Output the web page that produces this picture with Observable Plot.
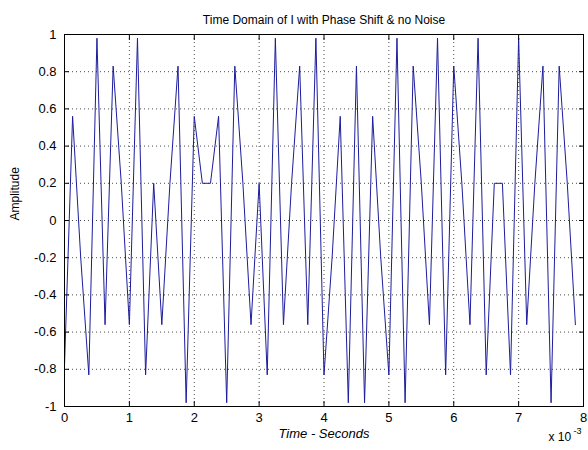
<!DOCTYPE html>
<html>
<head>
<meta charset="utf-8">
<script src="https://cdn.jsdelivr.net/npm/d3@7"></script>
<script src="https://cdn.jsdelivr.net/npm/@observablehq/plot@0.6"></script>
<style>
  html, body { margin: 0; padding: 0; background: #fff; }
</style>
</head>
<body>
<div id="chart"></div>
<script>
// time in units of 1e-3 seconds
const times = [0, 0.125, 0.25, 0.375, 0.5, 0.625, 0.75, 0.875,
  1, 1.125, 1.25, 1.375, 1.5, 1.625, 1.75, 1.875,
  2, 2.125, 2.25, 2.375, 2.5, 2.625, 2.75, 2.875,
  3, 3.125, 3.25, 3.375, 3.5, 3.625, 3.75, 3.875,
  4, 4.125, 4.25, 4.375, 4.5, 4.625, 4.75, 4.875,
  5, 5.125, 5.25, 5.375, 5.5, 5.625, 5.75, 5.875,
  6, 6.125, 6.25, 6.375, 6.5, 6.625, 6.75, 6.875,
  7, 7.125, 7.25, 7.375, 7.5, 7.625, 7.75, 7.875];
const amplitude = [-0.78, 0.56, -0.2, -0.83, 0.98, -0.56, 0.83, 0.2,
  -0.56, 0.98, -0.83, 0.2, -0.56, 0.2, 0.83, -0.98,
  0.56, 0.2, 0.2, 0.56, -0.98, 0.83, 0.2, -0.56,
  0.2, -0.83, 0.98, -0.56, 0.2, 0.83, -0.56, 0.98,
  -0.83, -0.2, 0.56, -0.98, 0.83, -0.98, 0.56, -0.2,
  -0.83, 0.98, -0.98, 0.83, 0.2, -0.56, 0.98, -0.83,
  0.83, 0.2, -0.56, 0.98, -0.83, 0.2, 0.2, -0.83,
  0.98, -0.56, 0.2, 0.83, -0.98, 0.83, 0.2, -0.56];
const xTicks = [0, 1, 2, 3, 4, 5, 6, 7, 8];
const yTicks = [-1, -0.8, -0.6, -0.4, -0.2, 0, 0.2, 0.4, 0.6, 0.8, 1];
const title = "Time Domain of I with Phase Shift & no Noise";
const xLabel = "Time - Seconds";
const yLabel = "Amplitude";
const xScaleNote = "x 10";
const xScaleExp = "-3";

const data = times.map((t, i) => ({t, v: amplitude[i]}));
const fmtY = d => String(d);

const chart = Plot.plot({
  width: 588,
  height: 450,
  marginLeft: 64,
  marginRight: 5,
  marginTop: 34,
  marginBottom: 44,
  style: {fontFamily: "'Liberation Sans', Arial, sans-serif", fontSize: "12px", background: "#fff", color: "#000"},
  x: {domain: [0, 8]},
  y: {domain: [-1, 1]},
  marks: [
    Plot.gridX(xTicks.slice(1, -1), {stroke: "#000", strokeOpacity: 0.7, strokeDasharray: "1,3"}),
    Plot.gridY(yTicks.slice(1, -1), {stroke: "#000", strokeOpacity: 0.7, strokeDasharray: "1,3"}),
    Plot.line(data, {x: "t", y: "v", stroke: "#1c1c9c", strokeWidth: 1}),
    Plot.frame({stroke: "#000"}),
    Plot.axisX(xTicks, {tickSize: 0, tickPadding: 6, label: null, fontSize: 13, tickFormat: d => String(d)}),
    Plot.axisX(xTicks, {tickSize: -5, tickFormat: () => "", label: null}),
    Plot.axisX(xTicks, {anchor: "top", tickSize: -5, tickFormat: () => "", label: null}),
    Plot.axisY(yTicks, {tickSize: 0, tickPadding: 8, tickFormat: fmtY, label: null, fontSize: 13}),
    Plot.axisY(yTicks, {tickSize: -5, tickFormat: () => "", label: null}),
    Plot.axisY(yTicks, {anchor: "right", tickSize: -5, tickFormat: () => "", label: null}),
    Plot.text([title], {frameAnchor: "top", dy: -19, fontSize: 12}),
    Plot.text([xLabel], {frameAnchor: "bottom", dy: 31, fontSize: 13, fontStyle: "italic"}),
    Plot.text([yLabel], {frameAnchor: "left", dx: -49, rotate: -90, fontSize: 12}),
    Plot.text([xScaleNote], {frameAnchor: "bottom-right", dx: -35, dy: 34, fontSize: 12, textAnchor: "start"}),
    Plot.text([xScaleExp], {frameAnchor: "bottom-right", dx: -10, dy: 27, fontSize: 9, textAnchor: "start"})
  ]
});
document.getElementById("chart").appendChild(chart);
</script>
</body>
</html>
